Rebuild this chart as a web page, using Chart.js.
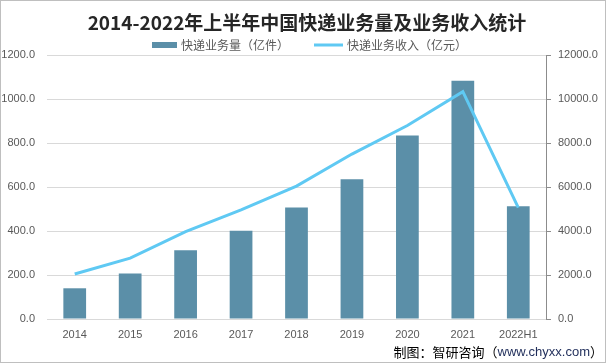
<!DOCTYPE html>
<html>
<head>
<meta charset="utf-8">
<script src="https://cdn.jsdelivr.net/npm/chart.js@4/dist/chart.umd.min.js"></script>
<style>
  html, body { margin: 0; padding: 0; background: #fff; }
  #wrap { width: 606px; height: 364px; position: relative; }
</style>
</head>
<body>
<div id="wrap"><canvas id="c" width="606" height="364"></canvas></div>
<script>
const titleText = '2014-2022年上半年中国快递业务量及业务收入统计';
const sourcePrefix = '制图：智研咨询（';
const sourceSite = 'www.chyxx.com';
const sourceSuffix = '）';
const categories = ['2014', '2015', '2016', '2017', '2018', '2019', '2020', '2021', '2022H1'];
const volumeLabel = '快递业务量（亿件）';
const revenueLabel = '快递业务收入（亿元）';
const volume = [139.6, 206.7, 312.8, 400.6, 507.1, 635.2, 833.6, 1083.0, 512.2];
const revenue = [2045.4, 2769.6, 3974.4, 4957.1, 6038.4, 7497.8, 8795.4, 10332.3, 5063.5];
const leftTicks = [0, 200, 400, 600, 800, 1000, 1200];
const rightTicks = [0, 2000, 4000, 6000, 8000, 10000, 12000];

const BAR_COLOR = '#5b8fa8';
const LINE_COLOR = '#5fc9f3';
const TEXT_GRAY = '#595959';
const FONT = '"Noto Sans CJK SC", "Microsoft YaHei", sans-serif';
const LATIN = '"Liberation Sans", Arial, sans-serif';

const decorPlugin = {
  id: 'decor',
  afterDraw(chart) {
    const ctx = chart.ctx;
    const W = chart.width;
    ctx.save();
    // title
    ctx.fillStyle = '#262626';
    ctx.font = 'bold 19px ' + FONT;
    ctx.textAlign = 'center';
    ctx.textBaseline = 'middle';
    ctx.fillText(titleText, W / 2 + 4, 23);
    // legend
    ctx.font = '12px ' + FONT;
    const sw1 = 25, sw2 = 29, g = 4, gap = 25;
    const w1 = ctx.measureText(volumeLabel).width;
    const w2 = ctx.measureText(revenueLabel).width;
    const total = sw1 + g + w1 + gap + sw2 + g + w2;
    let x = 152;
    const ly = 45;
    ctx.fillStyle = BAR_COLOR;
    ctx.fillRect(x, ly - 3, sw1, 6);
    x += sw1 + g;
    ctx.fillStyle = TEXT_GRAY;
    ctx.textAlign = 'left';
    ctx.fillText(volumeLabel, x, ly);
    x += w1 + gap;
    ctx.strokeStyle = LINE_COLOR;
    ctx.lineWidth = 3;
    ctx.beginPath();
    ctx.moveTo(x, ly);
    ctx.lineTo(x + sw2, ly);
    ctx.stroke();
    x += sw2 + g;
    ctx.fillText(revenueLabel, x, ly);
    // source
    ctx.textAlign = 'left';
    const cjk = '13px ' + FONT, lat = '13px ' + LATIN;
    ctx.font = cjk;
    const a = ctx.measureText(sourcePrefix).width;
    const c = ctx.measureText(sourceSuffix).width;
    ctx.font = lat;
    const b = ctx.measureText(sourceSite).width;
    let sx = 603 - (a + b + c);
    const sy = 352;
    ctx.font = cjk; ctx.fillStyle = '#000';
    ctx.fillText(sourcePrefix, sx, sy); sx += a;
    ctx.font = lat; ctx.fillStyle = '#1f2d5a';
    ctx.fillText(sourceSite, sx, sy); sx += b;
    ctx.font = cjk; ctx.fillStyle = '#000';
    ctx.fillText(sourceSuffix, sx, sy);
    // border
    ctx.strokeStyle = '#bfbfbf';
    ctx.lineWidth = 1;
    ctx.strokeRect(0.5, 0.5, W - 1, chart.height - 2);
    ctx.restore();
  }
};

new Chart(document.getElementById('c'), {
  data: {
    labels: categories,
    datasets: [
      {
        type: 'line',
        label: revenueLabel,
        data: revenue,
        yAxisID: 'y1',
        borderColor: LINE_COLOR,
        backgroundColor: LINE_COLOR,
        borderWidth: 3,
        pointRadius: 0,
        tension: 0,
        order: 0
      },
      {
        type: 'bar',
        label: volumeLabel,
        data: volume,
        yAxisID: 'y',
        backgroundColor: BAR_COLOR,
        borderColor: '#527f96',
        borderWidth: 0,
        barPercentage: 0.41,
        categoryPercentage: 1.0,
        order: 1
      }
    ]
  },
  plugins: [decorPlugin],
  options: {
    responsive: false,
    animation: false,
    devicePixelRatio: 1,
    layout: { padding: { top: 55, left: 0, right: 0, bottom: 0 } },
    plugins: {
      legend: { display: false },
      title: { display: false },
      tooltip: { enabled: false }
    },
    scales: {
      x: {
        grid: { display: false, drawTicks: false },
        border: { display: false },
        ticks: { color: TEXT_GRAY, font: { family: LATIN, size: 11 }, padding: 9, maxRotation: 0 },
        afterFit(s) { s.height = 45; }
      },
      y: {
        position: 'left',
        min: 0, max: 1200,
        afterBuildTicks(s) { s.ticks = leftTicks.map(v => ({ value: v })); },
        grid: { color: '#d9d9d9', drawTicks: false, lineWidth: 1 },
        border: { display: false },
        ticks: {
          color: TEXT_GRAY, font: { family: LATIN, size: 11 }, padding: 12,
          callback: v => Number(v).toFixed(1)
        },
        afterFit(s) { s.width = 47; }
      },
      y1: {
        position: 'right',
        min: 0, max: 12000,
        afterBuildTicks(s) { s.ticks = rightTicks.map(v => ({ value: v })); },
        grid: { drawOnChartArea: false, tickLength: 5, tickColor: '#8c8c8c' },
        border: { display: true, color: '#8c8c8c' },
        ticks: {
          color: TEXT_GRAY, font: { family: LATIN, size: 11 }, padding: 7,
          callback: v => Number(v).toFixed(1)
        },
        afterFit(s) { s.width = 60; }
      }
    }
  }
});
</script>
</body>
</html>
